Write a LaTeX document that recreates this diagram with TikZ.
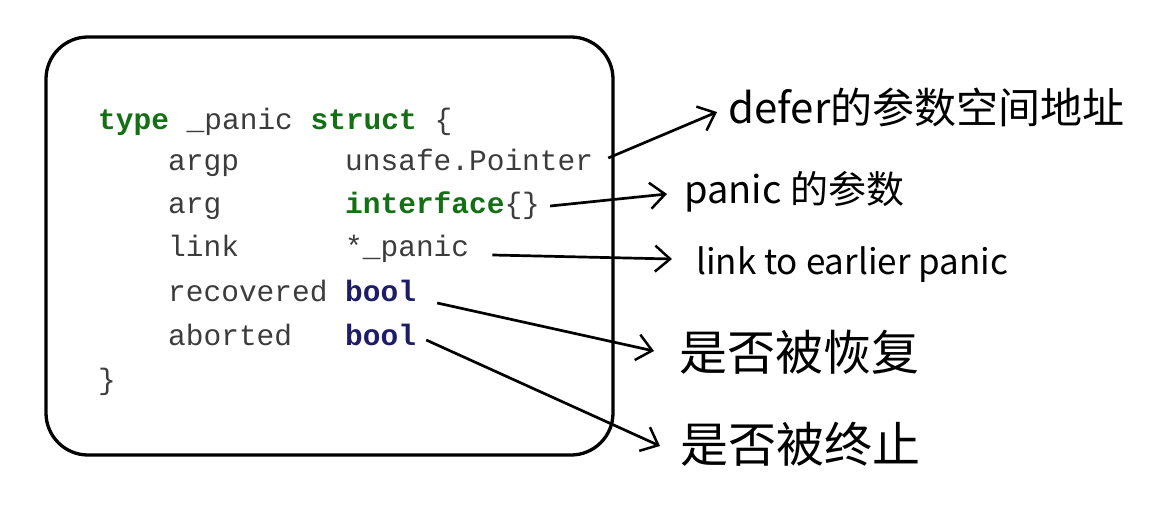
\documentclass[tikz,border=0pt]{standalone}
\usepackage{fontspec}
\setmonofont{Liberation Mono}
\newfontfamily\cjk{Noto Sans CJK SC}
\usetikzlibrary{arrows.meta}

\definecolor{kwgreen}{RGB}{20,112,20}
\definecolor{tyblue}{RGB}{28,28,105}
\definecolor{codegray}{RGB}{60,60,60}

\tikzset{
	code/.style={font=\ttfamily\fontsize{29.5}{31}\selectfont, text=codegray, anchor=base west, inner sep=0pt},
	note/.style={font=\cjk\fontsize{42}{44}\selectfont, anchor=west, inner sep=0pt},
	arr/.style={line width=2.7pt, -{Straight Barb[length=15pt, width=26pt, line width=2.5pt]}}
}
\newcommand{\kw}[1]{\textcolor{kwgreen}{\textbf{#1}}}
\newcommand{\ty}[1]{\textcolor{tyblue}{\textbf{#1}}}

\begin{document}
\begin{tikzpicture}[x=1pt, y=-1pt]
	\useasboundingbox (0, 0) rectangle (1166, 529);
	\draw[line width=3.3pt, rounded corners=42pt] (46, 37) rectangle (613, 455);

	% the struct
	\node[code] (head) at (98, 130) {\kw{type} \_panic \kw{struct} \{};
	\node[code] (f1) at (168, 171) {argp};
	\node[code] (t1) at (345, 171) {unsafe.Pointer};
	\node[code] (f2) at (168, 214) {arg};
	\node[code] (t2) at (345, 214) {\kw{interface}\{\}};
	\node[code] (f3) at (168, 257) {link};
	\node[code] (t3) at (345, 257) {*\_panic};
	\node[code] (f4) at (168, 301) {recovered};
	\node[code] (t4) at (345, 301) {\ty{bool}};
	\node[code] (f5) at (168, 345) {aborted};
	\node[code] (t5) at (345, 345) {\ty{bool}};
	\node[code] (tail) at (98, 389) {\}};

	% notes
	\node[note] (argp) at (728, 107) {defer的参数空间地址};
	\node[note, font=\cjk\fontsize{38}{42}\selectfont] (arg) at (684, 192) {panic 的参数};
	\node[note, font=\cjk\fontsize{35}{40}\selectfont] (link) at (696, 265) {link to earlier panic};
	\node[note, font=\cjk\fontsize{48}{50}\selectfont] (rec) at (679, 352) {是否被恢复};
	\node[note, font=\cjk\fontsize{48}{50}\selectfont] (abo) at (680, 444) {是否被终止};

	\draw[arr] ([shift={(15, -13)}]t1.base east) -- ([shift={(-11, 5)}]argp.west);
	\draw[arr] ([shift={(10, -8)}]t2.base east) -- ([shift={(-17, 2)}]arg.west);
	\draw[arr] ([shift={(23, -2)}]t3.base east) -- ([shift={(-24, -6)}]link.west);
	\draw[arr] ([shift={(21, 2)}]t4.base east) -- ([shift={(-25, -1)}]rec.west);
	\draw[arr] ([shift={(10, -5)}]t5.base east) -- ([shift={(-20, 2)}]abo.west);
\end{tikzpicture}
\end{document}
